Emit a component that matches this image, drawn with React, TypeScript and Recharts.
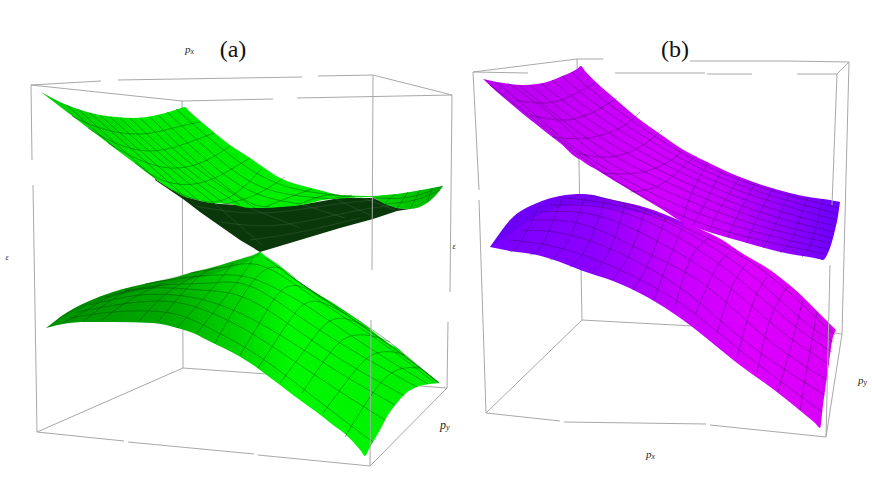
import React from 'react';
import { ComposedChart, XAxis, YAxis, Area, Line, ReferenceDot } from 'recharts';

// Surface outlines: [x, upper edge, lower edge]
const greenUpperRows = [[41,92,92],[54,99,102],[67,105,112],[84,111,125],[100,115,137],[117,117,150],[133,118,162],[157,115,180],[172,111,190],[181,108,195],[185,107,197],[189,111,198],[198,119,200],[210,129,203],[230,145,204],[250,158,208],[263,167,208],[280,178,207],[307,187,204],[323,191,200],[340,195,198.5],[370,196,197],[385,195,204],[397,194,208],[410,192,209],[427,189,203],[437,187,194],[443,186,186]];
const greenUndersideRows = [[155,179,180],[183,196,199],[200,201,212],[220,204,226],[240,205,240],[260,208,252],[300,205,240],[340,198,228],[373,198,219],[397,208,211],[410,209,209]];
const greenLowerRows = [[46,328,328],[50,325,327],[63,315,324],[87,302,322],[113,292,322],[153,282,323],[177,277,328],[193,272,333],[207,269,340],[237,260,355],[256,254,367],[260,252,370],[264,255,373],[280,266,385],[293,277,395],[323,297,417],[333,303,425],[345,311,434],[361,322,451],[365,325,456],[369,328,449],[380,337,430],[388,343,415],[397,348,403],[405,355,394],[417,365,387],[430,375,384],[440,383,383]];
const greenLowerShade = [[46,328,328],[63,315,317],[87,302,306],[113,292,297],[153,282,288],[193,272,279],[237,260,266],[260,252,255]];
const violetUpperRows = [[483,79,79],[497,82,92],[510,84,103],[523,85,114],[537,84,125],[547,82,133],[560,77,143],[577,69,158],[581,66,160],[585,71,163],[597,83,170],[613,97,180],[643,122,198],[660,134,208],[682,149,222],[703,160,230],[740,177,241],[790,193,254],[819,198.6,259],[823,199,260],[827,199.6,255],[830,200,248],[835,201,230],[838,201.5,216],[840,202,202]];
const violetLowerRows = [[490,247,247],[495,240,248],[510,220,251],[537,203,255],[560,196,262],[583,194,271],[613,200,281],[647,208,297],[683,222,320],[727,243,355],[737,250,363],[773,272,389],[803,297,413],[816,310,424],[820,314,428],[823,317,405],[827,321,377],[833,327,337],[836,330,330]];
const violetLowerShade = [[490,247,247],[510,220,234],[537,203,216],[560,196,207],[583,194,204],[613,200,209],[647,208,214],[683,222,225]];

// Mesh lines, flat x,y lists
const greenUpperRibs = [
  [72,116,100,128,140,134,177,127,200,122],[88,128,113,142,150,151,187,143,214,133],[108,143,133,157,170,168,205,161,230,146],
  [135,163,165,181,200,183,230,170,250,158],[172,190,210,202,240,190,262,168],[225,204,255,195,285,177],[265,207,290,197,312,189],
  [300,204,322,196,340,195],[335,198,352,195],[385,203,395,194],[397,208,408,192],[410,209,420,190],[427,203,432,188],
];
const greenUpperRuns = [
  [67,105,90,126,115,148],[78,109,115,143,157,180],[90,113,135,152,185,197],[100,115,145,155,200,202],[110,117,160,160,215,204],
  [120,118,170,162,225,204],[130,118,182,165,240,205],[140,118,195,167,255,208],[150,117,200,165,245,200,270,207],
  [158,115,210,163,255,193,300,204],[167,112,220,160,270,190,335,199],[176,109,230,155,285,186,355,197],
  [373,198,410,197,443,186],[385,204,415,200,440,190],
];
const greenUndersideMesh = [
  [220,222,280,225,350,212,395,205],[195,206,260,213,330,205,385,199],[250,240,300,232,360,218],
  [250,208,300,228],[300,204,345,218],[335,199,370,215],[360,197,395,210],[215,204,262,245],
];
const greenLowerArches = [
  [345,437,368,400,393,372,420,368],[323,413,350,377,372,355,393,352,405,355],[302,393,327,357,348,337,372,336,390,342],
  [280,383,307,347,327,323,347,319,370,329],[258,368,283,330,303,305,323,303,347,315],[240,355,263,317,282,290,302,287,323,300],
  [215,343,240,300,262,272,280,268,295,278],[197,333,237,282,252,260],[177,328,217,283,233,263],[157,323,195,280,217,267],
  [138,322,167,293,197,275],[102,320,130,300,163,283],[83,322,107,303,133,287],[63,323,87,310,110,295],
];
const greenLowerRuns = [
  [70,318,113,312,170,313,213,330,260,357,320,402,373,442],[77,312,130,303,180,303,227,320,270,345,330,385,385,420],
  [90,305,140,295,190,297,233,310,280,335,340,373,395,405],[107,297,150,288,200,290,243,297,290,325,345,362,405,396],
  [125,291,165,285,210,283,250,286,300,317,355,352,417,387],[145,284,190,277,230,275,262,282,310,308,365,345,428,384],
  [190,273,230,266,265,267,315,298,375,338,435,383],[265,258,320,296,380,335,437,382],[285,273,335,307,390,346,438,382],[300,283,350,317,402,354,439,383],
];
const violetUpperRibs = [
  [515,100,547,103,573,95,595,83],[530,115,567,120,597,110,617,98],[552,137,587,138,620,128,640,112],[577,153,610,157,640,147,662,130],
  [603,173,637,173,667,163,683,150],[630,192,660,185,685,165,697,156],[683,222,690,197,708,162],[693,225,703,207,722,170],[710,230,718,212,740,177],
  [728,237,737,217,755,183],[747,243,755,223,773,188],[763,248,773,230,790,193],[780,253,793,237,807,197],[802,257,812,240,823,199],
];
const violetUpperRuns = [
  [572,72,600,97,680,152,760,187,839,208],[562,76,600,107,680,158,760,192,838,214],[552,80,600,117,680,165,760,198,837,220],
  [541,83,600,127,680,172,760,205,835,226],[530,85,600,137,680,180,760,212,834,232],[519,85,600,147,680,188,760,219,832,238],
  [508,83,560,122,600,157,680,197,760,226,830,243],[498,83,550,128,600,165,680,206,760,233,828,249],[490,85,545,128,600,170,680,215,760,240,826,254],
];
const violetLowerArches = [
  [800,410,808,363,817,312],[778,392,790,350,803,300],[757,373,770,320,787,287],[737,357,753,303,767,277],[717,333,732,287,747,263],
  [695,315,715,270,730,252],[675,308,690,260,708,238],[654,300,668,262,682,228],[633,290,650,260,665,218],[612,280,630,253,645,210],
  [592,273,610,250,625,204],[570,267,587,247,605,200],[550,260,567,243,585,197],[530,255,543,243,562,198],[510,252,520,243,540,205],
];
const violetLowerRuns = [
  [510,240,560,248,620,270,680,303,740,350,822,412],[520,230,570,235,630,258,690,295,750,345,825,395],[530,220,585,225,645,252,705,285,765,337,827,380],
  [540,212,595,215,655,240,720,280,780,330,830,365],[550,205,605,208,665,230,730,272,790,322,832,352],[565,198,615,205,675,226,745,270,800,318,834,342],
  [590,195,640,208,690,230,755,265,810,312,835,335],
];

// Frame pieces (broken, as in the picture)
const frameBehind = [
  [31,85,101,81],[118,80,302,77],[318,76,373,75],[31,85,182,101],[182,101,273,99],[297,98,452,95],[373,75,452,95],
  [31,85,32,160],[33,185,37,432],[182,101,183,368],[37,432,183,368],[183,368,267,374],[420,386,447,388],
  [37,432,124,441],[128,442,254,454],[258,455,370,466],
  [473,72,577,59],[577,59,603,59],[690,61,787,61],[787,61,849,62],[473,72,528,73],[615,73,705,73],[707,74,752,74],[797,74,837,74],[837,74,849,62],
  [473,72,479,190],[479,200,486,413],[577,59,582,320],[486,413,582,320],[582,320,693,326],[834,333,842,334],
  [486,413,560,421],[564,422,706,424],[710,425,826,437],[849,62,842,334],
];
const frameFront = [
  [373,75,372,270],[371,320,370,466],[452,95,450,292],[448,322,447,388],[370,466,447,388],
  [837,74,832,205],[830,265,826,437],[826,437,842,334],
];

const labels = [
  { x: 233, y: 57, t: '(a)' },
  { x: 675, y: 57, t: '(b)' },
];
const axisTags = [
  { x: 185, y: 53, p: 'p', s: 'x', size: 11 },
  { x: 440, y: 429, p: 'p', s: 'y', size: 12 },
  { x: 646, y: 458, p: 'p', s: 'x', size: 11 },
  { x: 858, y: 384, p: 'p', s: 'y', size: 11 },
];
const energyTags = [
  { x: 7, y: 260, t: 'ε' },
  { x: 454, y: 249, t: 'ε' },
];

const rows = (list: number[][]) => list.map(([x, a, b]) => ({ x, r: [a, b] }));
const pts = (flat: number[]) => {
  const out: { x: number; y: number }[] = [];
  for (let i = 0; i < flat.length; i += 2) out.push({ x: flat[i], y: flat[i + 1] });
  return out;
};

function meshLines(list: number[][], stroke: string, name: string, z: number, width = 0.7, curve: any = 'natural') {
  return list.map((flat, i) => (
    <Line key={name + i} data={pts(flat)} dataKey="y" type={curve} stroke={stroke} strokeWidth={width}
      dot={false} activeDot={false} isAnimationActive={false} legendType="none" zIndex={z} />
  ));
}
function surface(list: number[][], fill: string, name: string, z: number, curve: any = 'monotone', opacity = 1) {
  return (
    <Area key={name} data={rows(list)} dataKey="r" type={curve} fill={fill} fillOpacity={opacity} stroke="none"
      dot={false} activeDot={false} isAnimationActive={false} legendType="none" zIndex={z} />
  );
}

export default function App() {
  const greenMesh = 'rgba(0,60,0,0.55)';
  const violetMesh = 'rgba(60,0,90,0.55)';
  const serif = '"Liberation Serif", serif';
  return (
    <div style={{ position: 'absolute', left: 0, top: 0, width: 872, height: 491, background: '#fff' }}>
      <ComposedChart width={872} height={491} margin={{ top: 0, right: 0, bottom: 0, left: 0 }}>
        <defs>
          <linearGradient id="gU" x1="0" y1="0" x2="1" y2="0">
            <stop offset="0%" stopColor="#00c800" /><stop offset="25%" stopColor="#00e800" />
            <stop offset="60%" stopColor="#00f000" /><stop offset="85%" stopColor="#00d400" /><stop offset="100%" stopColor="#00b400" />
          </linearGradient>
          <linearGradient id="gL" x1="0" y1="0" x2="1" y2="0">
            <stop offset="0%" stopColor="#009000" /><stop offset="30%" stopColor="#00a800" />
            <stop offset="50%" stopColor="#00d800" /><stop offset="62%" stopColor="#00f800" /><stop offset="100%" stopColor="#00ee00" />
          </linearGradient>
          <linearGradient id="vU" x1="0" y1="0" x2="1" y2="0">
            <stop offset="0%" stopColor="#b800f0" /><stop offset="50%" stopColor="#d000ff" />
            <stop offset="68%" stopColor="#c400ff" /><stop offset="85%" stopColor="#9000ff" /><stop offset="100%" stopColor="#6a00ff" />
          </linearGradient>
          <linearGradient id="vL" x1="0" y1="0" x2="1" y2="0">
            <stop offset="0%" stopColor="#7800ff" /><stop offset="30%" stopColor="#8c00ff" />
            <stop offset="55%" stopColor="#c800ff" /><stop offset="75%" stopColor="#dc00ff" /><stop offset="100%" stopColor="#d800f8" />
          </linearGradient>
        </defs>
        <XAxis hide type="number" dataKey="x" domain={[0, 872]} allowDataOverflow />
        <YAxis hide type="number" width={0} domain={[0, 491]} reversed allowDataOverflow />

        {meshLines(frameBehind, '#a8a8a8', 'fb', 50, 1, 'linear')}
        {surface(greenUndersideRows, '#0b380b', 'gd', 110, 'linear')}
        {surface(greenUpperRows, 'url(#gU)', 'gu', 120)}
        {surface(greenLowerRows, 'url(#gL)', 'gl', 130)}
        {surface(greenLowerShade, '#004800', 'gs', 131, 'monotone', 0.2)}
        {surface(violetLowerRows, 'url(#vL)', 'vl', 140)}
        {surface(violetLowerShade, '#3000d0', 'vs', 141, 'monotone', 0.22)}
        {surface(violetUpperRows, 'url(#vU)', 'vu', 150)}

        {meshLines(greenUndersideMesh, 'rgba(120,140,120,0.3)', 'gdm', 410)}
        {meshLines(greenUpperRibs, greenMesh, 'gur', 410)}
        {meshLines(greenUpperRuns, greenMesh, 'gun', 410)}
        {meshLines(greenLowerArches, greenMesh, 'gla', 410)}
        {meshLines(greenLowerRuns, greenMesh, 'gln', 410)}
        {meshLines(violetLowerArches, violetMesh, 'vla', 410)}
        {meshLines(violetLowerRuns, violetMesh, 'vln', 410)}
        {meshLines(violetUpperRibs, violetMesh, 'vur', 410)}
        {meshLines(violetUpperRuns, violetMesh, 'vun', 410)}
        {meshLines(frameFront, '#a8a8a8', 'ff', 420, 1, 'linear')}

        {labels.map((l) => (
          <ReferenceDot key={l.t} x={l.x} y={l.y} r={0} ifOverflow="visible"
            shape={(p: any) => (
              <text x={p.cx} y={p.cy} textAnchor="middle" fontFamily={serif} fontSize={24} fill="#111">{l.t}</text>
            )} />
        ))}
        {axisTags.map((l, i) => (
          <ReferenceDot key={'a' + i} x={l.x} y={l.y} r={0} ifOverflow="visible"
            shape={(p: any) => (
              <text x={p.cx} y={p.cy} fontFamily={serif} fontStyle="italic" fontSize={l.size} fill="#222">
                {l.p}<tspan fontSize={l.size * 0.7} dy={1}>{l.s}</tspan>
              </text>
            )} />
        ))}
        {energyTags.map((l, i) => (
          <ReferenceDot key={'e' + i} x={l.x} y={l.y} r={0} ifOverflow="visible"
            shape={(p: any) => (
              <text x={p.cx} y={p.cy} textAnchor="middle" fontFamily={serif} fontStyle="italic" fontSize={8} fill="#222">{l.t}</text>
            )} />
        ))}
      </ComposedChart>
    </div>
  );
}
